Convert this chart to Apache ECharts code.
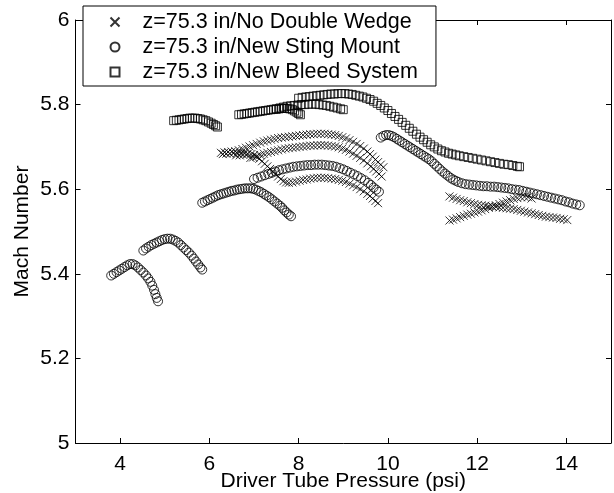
<!DOCTYPE html>
<html>
<head>
<meta charset="utf-8">
<script src="https://cdn.jsdelivr.net/npm/echarts@6/dist/echarts.min.js"></script>
<style>
html,body{margin:0;padding:0;background:#fff;}
#chart{width:614px;height:493px;}
</style>
</head>
<body>
<div id="chart"></div>
<script>
// ---- Data ----
var xTicks = [4, 6, 8, 10, 12, 14];
var yTicks = [5, 5.2, 5.4, 5.6, 5.8, 6];
var seriesNames = ['z=75.3 in/No Double Wedge', 'z=75.3 in/New Sting Mount', 'z=75.3 in/New Bleed System'];

// No Double Wedge (crosses)
var wedgeA = [[6.26,5.686],[6.34,5.687],[6.42,5.688],[6.50,5.689],[6.58,5.690],[6.66,5.692],[6.74,5.695],[6.82,5.698],[6.90,5.701],[6.98,5.704],[7.06,5.707],[7.14,5.710],[7.22,5.713],[7.30,5.715],[7.38,5.717],[7.46,5.719],[7.54,5.721],[7.62,5.722],[7.70,5.723],[7.78,5.724],[7.86,5.725],[7.94,5.726],[8.02,5.727],[8.10,5.728],[8.18,5.729],[8.26,5.730],[8.34,5.730],[8.42,5.731],[8.50,5.731],[8.58,5.731],[8.66,5.730],[8.74,5.729],[8.82,5.728],[8.90,5.726],[8.98,5.723],[9.06,5.720],[9.14,5.716],[9.22,5.712],[9.30,5.707],[9.38,5.702],[9.46,5.696],[9.54,5.689],[9.60,5.683],[9.66,5.677],[9.72,5.670],[9.78,5.664],[9.84,5.658],[9.90,5.652]];
var wedgeB = [[6.60,5.680],[6.68,5.680],[6.76,5.681],[6.84,5.682],[6.92,5.674],[6.98,5.675],[7.06,5.678],[7.14,5.681],[7.22,5.684],[7.30,5.686],[7.38,5.688],[7.46,5.690],[7.54,5.692],[7.62,5.694],[7.70,5.696],[7.78,5.697],[7.86,5.698],[7.94,5.699],[8.02,5.700],[8.10,5.701],[8.18,5.702],[8.26,5.703],[8.34,5.703],[8.42,5.704],[8.50,5.704],[8.58,5.704],[8.66,5.703],[8.74,5.702],[8.82,5.701],[8.90,5.699],[8.98,5.696],[9.06,5.693],[9.14,5.689],[9.22,5.684],[9.30,5.679],[9.38,5.674],[9.46,5.668],[9.54,5.661],[9.62,5.654],[9.68,5.648],[9.74,5.642],[9.80,5.636],[9.86,5.630]];
var wedgeC = [[6.30,5.683],[6.38,5.684],[6.46,5.684],[6.54,5.685],[6.62,5.685],[6.70,5.685],[6.78,5.685],[6.86,5.684],[6.94,5.683],[7.00,5.681],[7.06,5.677],[7.12,5.672],[7.18,5.666],[7.24,5.660],[7.30,5.654],[7.36,5.648],[7.42,5.642],[7.48,5.636],[7.54,5.630],[7.60,5.624],[7.66,5.619],[7.72,5.616],[7.78,5.615],[7.86,5.616],[7.94,5.618],[8.02,5.620],[8.10,5.622],[8.18,5.623],[8.26,5.625],[8.34,5.626],[8.42,5.627],[8.50,5.627],[8.58,5.627],[8.66,5.626],[8.74,5.625],[8.82,5.624],[8.90,5.622],[8.98,5.620],[9.06,5.617],[9.14,5.613],[9.22,5.609],[9.30,5.605],[9.38,5.600],[9.46,5.595],[9.54,5.589],[9.60,5.584],[9.66,5.578],[9.72,5.572],[9.78,5.567]];
var wedgeD = [[11.38,5.583],[11.46,5.580],[11.54,5.577],[11.62,5.574],[11.70,5.572],[11.78,5.569],[11.86,5.567],[11.94,5.565],[12.02,5.563],[12.10,5.562],[12.18,5.561],[12.26,5.560],[12.34,5.559],[12.42,5.558],[12.50,5.557],[12.58,5.556],[12.66,5.555],[12.74,5.554],[12.82,5.553],[12.90,5.551],[12.98,5.549],[13.06,5.547],[13.14,5.545],[13.22,5.543],[13.30,5.541],[13.38,5.539],[13.46,5.537],[13.54,5.535],[13.62,5.534],[13.70,5.533],[13.78,5.532],[13.86,5.530],[13.94,5.529],[14.02,5.527]];
var wedgeE = [[11.38,5.526],[11.46,5.528],[11.54,5.531],[11.62,5.534],[11.70,5.537],[11.78,5.540],[11.86,5.542],[11.94,5.545],[12.02,5.547],[12.10,5.550],[12.18,5.553],[12.26,5.556],[12.34,5.559],[12.42,5.562],[12.50,5.565],[12.58,5.568],[12.66,5.571],[12.74,5.574],[12.82,5.577],[12.90,5.579],[12.98,5.581],[13.06,5.582],[13.14,5.581],[13.22,5.578]];

// New Sting Mount (circles)
var stingA = [[3.80,5.396],[3.86,5.400],[3.92,5.404],[3.98,5.408],[4.04,5.412],[4.10,5.416],[4.16,5.420],[4.22,5.423],[4.28,5.423],[4.34,5.420],[4.40,5.415],[4.46,5.409],[4.52,5.403],[4.58,5.396],[4.63,5.389],[4.68,5.381],[4.72,5.372],[4.76,5.362],[4.79,5.352],[4.82,5.343],[4.85,5.335]];
var stingB = [[4.52,5.455],[4.58,5.460],[4.64,5.464],[4.70,5.468],[4.76,5.471],[4.82,5.474],[4.88,5.477],[4.94,5.480],[5.00,5.482],[5.06,5.483],[5.12,5.483],[5.18,5.481],[5.24,5.478],[5.30,5.474],[5.36,5.468],[5.42,5.462],[5.48,5.456],[5.54,5.450],[5.60,5.443],[5.65,5.436],[5.70,5.429],[5.75,5.422],[5.80,5.415],[5.84,5.410]];
var stingC = [[5.84,5.568],[5.90,5.571],[5.96,5.574],[6.02,5.577],[6.08,5.580],[6.14,5.583],[6.20,5.586],[6.26,5.588],[6.32,5.590],[6.38,5.592],[6.44,5.594],[6.50,5.596],[6.56,5.597],[6.62,5.599],[6.68,5.600],[6.74,5.601],[6.80,5.602],[6.86,5.602],[6.92,5.602],[6.98,5.601],[7.04,5.599],[7.10,5.596],[7.16,5.593],[7.22,5.589],[7.28,5.585],[7.34,5.581],[7.40,5.576],[7.46,5.571],[7.52,5.566],[7.58,5.561],[7.63,5.556],[7.68,5.550],[7.73,5.545],[7.78,5.540],[7.83,5.536]];
var stingD = [[7.00,5.624],[7.08,5.627],[7.16,5.630],[7.24,5.633],[7.32,5.636],[7.40,5.639],[7.48,5.642],[7.56,5.645],[7.64,5.647],[7.72,5.649],[7.80,5.651],[7.88,5.653],[7.96,5.654],[8.04,5.655],[8.12,5.656],[8.20,5.657],[8.28,5.657],[8.36,5.658],[8.44,5.658],[8.52,5.658],[8.60,5.657],[8.68,5.656],[8.76,5.655],[8.84,5.653],[8.92,5.650],[9.00,5.647],[9.08,5.643],[9.16,5.639],[9.24,5.635],[9.32,5.631],[9.40,5.626],[9.48,5.621],[9.56,5.615],[9.62,5.610],[9.68,5.604],[9.74,5.599],[9.80,5.594]];
var stingE = [[9.84,5.722],[9.90,5.726],[9.96,5.728],[10.02,5.728],[10.08,5.726],[10.14,5.723],[10.20,5.719],[10.26,5.715],[10.32,5.711],[10.38,5.707],[10.44,5.703],[10.50,5.699],[10.56,5.695],[10.62,5.691],[10.68,5.687],[10.74,5.683],[10.80,5.679],[10.86,5.675],[10.92,5.671],[10.98,5.666],[11.04,5.660],[11.10,5.654],[11.16,5.648],[11.22,5.642],[11.28,5.637],[11.34,5.632],[11.40,5.627],[11.46,5.623],[11.52,5.620],[11.58,5.617],[11.66,5.614],[11.74,5.612],[11.82,5.611],[11.90,5.610],[11.98,5.609],[12.06,5.608],[12.14,5.607],[12.22,5.607],[12.30,5.606],[12.38,5.606],[12.46,5.605],[12.54,5.604],[12.62,5.603],[12.70,5.602],[12.78,5.600],[12.86,5.599],[12.94,5.598],[13.02,5.596],[13.10,5.594],[13.18,5.592],[13.26,5.590],[13.34,5.588],[13.42,5.586],[13.50,5.584],[13.58,5.582],[13.66,5.580],[13.74,5.578],[13.82,5.576],[13.90,5.574],[13.98,5.571],[14.06,5.569],[14.14,5.566],[14.22,5.564],[14.30,5.562]];

// New Bleed System (squares)
var bleedA = [[5.20,5.762],[5.26,5.763],[5.32,5.764],[5.38,5.765],[5.44,5.766],[5.50,5.767],[5.56,5.768],[5.62,5.768],[5.68,5.768],[5.74,5.767],[5.80,5.766],[5.86,5.764],[5.92,5.762],[5.98,5.759],[6.04,5.756],[6.09,5.753],[6.14,5.750],[6.18,5.747]];
var bleedB = [[6.66,5.776],[6.72,5.777],[6.78,5.778],[6.84,5.779],[6.90,5.780],[6.96,5.781],[7.02,5.782],[7.08,5.783],[7.14,5.784],[7.20,5.785],[7.26,5.786],[7.32,5.787],[7.38,5.788],[7.44,5.789],[7.50,5.789],[7.56,5.790],[7.62,5.791],[7.68,5.791],[7.74,5.791],[7.80,5.790],[7.86,5.788],[7.91,5.785],[7.96,5.782],[8.00,5.779],[8.04,5.776]];
var bleedC = [[7.50,5.790],[7.58,5.792],[7.66,5.794],[7.74,5.796],[7.82,5.797],[7.90,5.798],[7.98,5.799],[8.06,5.800],[8.14,5.800],[8.22,5.801],[8.30,5.801],[8.38,5.801],[8.46,5.800],[8.54,5.799],[8.62,5.798],[8.70,5.796],[8.78,5.794],[8.86,5.792],[8.94,5.790],[9.00,5.788]];
var bleedD = [[8.00,5.815],[8.08,5.817],[8.16,5.818],[8.24,5.819],[8.32,5.820],[8.40,5.821],[8.48,5.822],[8.56,5.823],[8.64,5.824],[8.72,5.825],[8.80,5.825],[8.88,5.826],[8.96,5.826],[9.04,5.826],[9.12,5.825],[9.20,5.824],[9.28,5.822],[9.36,5.820],[9.44,5.818],[9.52,5.815],[9.60,5.812],[9.68,5.808],[9.76,5.803],[9.84,5.798],[9.92,5.792],[10.00,5.786],[10.08,5.779],[10.16,5.772],[10.24,5.765],[10.32,5.758],[10.40,5.751],[10.48,5.744],[10.56,5.737],[10.64,5.730],[10.72,5.723],[10.80,5.717],[10.88,5.711],[10.96,5.705],[11.04,5.700],[11.12,5.695],[11.20,5.691],[11.28,5.688],[11.36,5.685],[11.44,5.683],[11.52,5.681],[11.60,5.679],[11.70,5.677],[11.80,5.675],[11.90,5.673],[12.00,5.671],[12.10,5.669],[12.20,5.667],[12.30,5.665],[12.40,5.663],[12.50,5.661],[12.60,5.659],[12.70,5.658],[12.80,5.656],[12.90,5.654],[12.95,5.653]];

var wedgeData = [].concat(wedgeA, wedgeB, wedgeC, wedgeD, wedgeE);
var stingData = [].concat(stingA, stingB, stingC, stingD, stingE);
var bleedData = [].concat(bleedA, bleedB, bleedC, bleedD);

var FONT = '"Liberation Sans", Arial, Helvetica, sans-serif';
var FS = 21;
var crossPath = 'path://M0,0L10,10M10,0L0,10';

var hollow = {color: 'none', borderColor: '#000', borderWidth: 1};

var chart = echarts.init(document.getElementById('chart'), null, {renderer: 'canvas'});
var option = {
  animation: false,
  backgroundColor: '#fff',
  textStyle: {fontFamily: FONT, color: '#000'},
  grid: {left: 75.5, right: 3, top: 20, bottom: 50, show: false, outerBoundsMode: 'none', containLabel: false},
  legend: {
    show: true,
    orient: 'vertical',
    left: 83, top: 6,
    padding: [3.5, 18, 1.5, 25],
    itemWidth: 9, itemHeight: 9,
    itemGap: 0,
    backgroundColor: '#fff',
    borderColor: '#000', borderWidth: 1,
    z: 20,
    selectedMode: false,
    textStyle: {fontFamily: FONT, fontSize: 21.5, lineHeight: 25, color: '#000', padding: [0, 0, 0, 18]},
    data: [
      {name: seriesNames[0], icon: crossPath},
      {name: seriesNames[1], icon: 'circle'},
      {name: seriesNames[2], icon: 'rect'}
    ]
  },
  xAxis: [{
    type: 'value', min: 3, max: 15, position: 'bottom',
    name: 'Driver Tube Pressure (psi)', nameLocation: 'middle', nameGap: 28, nameMoveOverlap: false,
    nameTextStyle: {fontFamily: FONT, fontSize: FS, color: '#000'},
    axisLine: {show: true, onZero: false, lineStyle: {color: '#000', width: 1}},
    axisTick: {show: true, inside: true, length: 5, customValues: xTicks, lineStyle: {color: '#000'}},
    axisLabel: {show: true, customValues: xTicks, margin: 11, fontFamily: FONT, fontSize: FS, color: '#000'},
    splitLine: {show: false}
  }, {
    type: 'value', min: 3, max: 15, position: 'top',
    axisLine: {show: true, onZero: false, lineStyle: {color: '#000', width: 1}},
    axisTick: {show: true, inside: true, length: 5, customValues: xTicks, lineStyle: {color: '#000'}},
    axisLabel: {show: false},
    splitLine: {show: false}
  }],
  yAxis: [{
    type: 'value', min: 5, max: 6, interval: 0.2, position: 'left',
    name: 'Mach Number', nameLocation: 'middle', nameGap: 43, nameRotate: 90, nameMoveOverlap: false,
    nameTextStyle: {fontFamily: FONT, fontSize: FS, color: '#000'},
    axisLine: {show: true, onZero: false, lineStyle: {color: '#000', width: 1}},
    axisTick: {show: true, inside: true, length: 5, lineStyle: {color: '#000'}},
    axisLabel: {show: true, margin: 6, fontFamily: FONT, fontSize: FS, color: '#000',
      formatter: function (v) { return String(Math.round(v * 10) / 10); }},
    splitLine: {show: false}
  }, {
    type: 'value', min: 5, max: 6, interval: 0.2, position: 'right',
    axisLine: {show: true, onZero: false, lineStyle: {color: '#000', width: 1}},
    axisTick: {show: true, inside: true, length: 5, lineStyle: {color: '#000'}},
    axisLabel: {show: false},
    splitLine: {show: false}
  }],
  series: [{
    name: seriesNames[0], type: 'scatter', xAxisIndex: 0, yAxisIndex: 0,
    symbol: crossPath, symbolSize: 8, itemStyle: hollow, data: wedgeData
  }, {
    name: seriesNames[1], type: 'scatter', xAxisIndex: 0, yAxisIndex: 0,
    symbol: 'circle', symbolSize: 9, itemStyle: hollow, data: stingData
  }, {
    name: seriesNames[2], type: 'scatter', xAxisIndex: 0, yAxisIndex: 0,
    symbol: 'rect', symbolSize: 8, itemStyle: hollow, data: bleedData
  }]
};
chart.setOption(option);
</script>
</body>
</html>
